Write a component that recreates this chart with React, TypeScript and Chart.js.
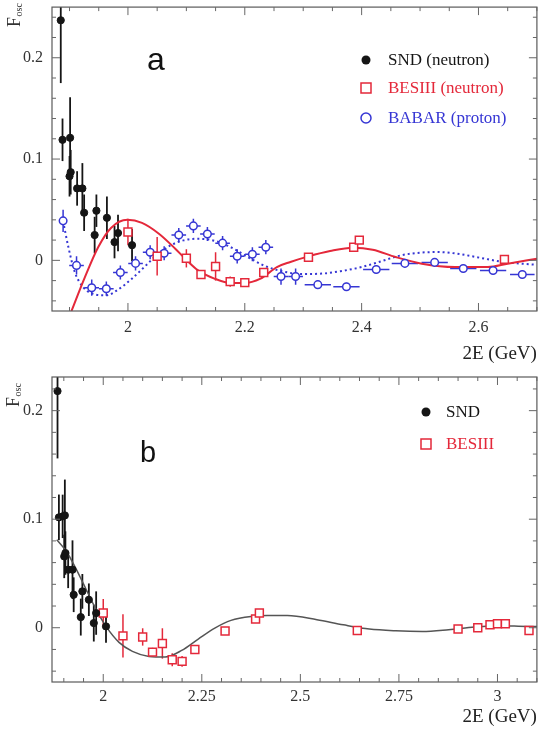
import { useEffect, useRef } from 'react';
import { Chart, registerables } from 'chart.js';

Chart.register(...registerables);

// ---------- panel a ----------
// SND (neutron)
const sndA_E = [1.885, 1.888, 1.901, 1.900, 1.902, 1.913, 1.922, 1.925, 1.943, 1.946, 1.964, 1.977, 1.983, 2.007];
const sndA_F = [0.237, 0.119, 0.121, 0.083, 0.087, 0.071, 0.071, 0.047, 0.025, 0.049, 0.042, 0.018, 0.027, 0.015];
const sndA_err = [0.062, 0.021, 0.04, 0.02, 0.022, 0.017, 0.025, 0.018, 0.018, 0.016, 0.021, 0.016, 0.018, 0.016];

// BESIII (neutron)
const besA_E = [2.0, 2.05, 2.1, 2.125, 2.15, 2.175, 2.2, 2.2324, 2.309, 2.3864, 2.396, 2.6444];
const besA_F = [0.028, 0.004, 0.002, -0.014, -0.006, -0.021, -0.022, -0.012, 0.003, 0.013, 0.020, 0.001];
const besA_err = [0.013, 0.019, 0.009, 0.004, 0.014, 0.005, 0.004, 0.004, 0.003, 0.003, 0.003, 0.003];

// BABAR (proton)
const babar_E = [1.889, 1.912, 1.938, 1.963, 1.987, 2.013, 2.038, 2.062, 2.087, 2.112, 2.136, 2.162, 2.187,
  2.213, 2.236, 2.262, 2.287, 2.325, 2.374, 2.425, 2.474, 2.525, 2.574, 2.625, 2.675];
const babar_F = [0.039, -0.005, -0.027, -0.028, -0.012, -0.003, 0.008, 0.007, 0.025, 0.034, 0.026, 0.017, 0.004,
  0.006, 0.013, -0.016, -0.016, -0.024, -0.026, -0.009, -0.003, -0.002, -0.008, -0.010, -0.014];
const babar_errF = [0.011, 0.009, 0.008, 0.007, 0.007, 0.007, 0.007, 0.007, 0.007, 0.007, 0.007, 0.007, 0.007,
  0.007, 0.007, 0.008, 0.008, 0.004, 0.004, 0.004, 0.004, 0.004, 0.004, 0.004, 0.004];
const babar_errE = [0.005, 0.0125, 0.0125, 0.0125, 0.0125, 0.0125, 0.0125, 0.0125, 0.0125, 0.0125, 0.0125, 0.0125, 0.0125,
  0.0125, 0.0125, 0.0125, 0.0125, 0.0225, 0.0225, 0.0225, 0.0225, 0.0225, 0.0225, 0.0225, 0.021];

// neutron fit (solid) and proton fit (dotted)
const fitN_E = [1.902, 1.926, 1.949, 1.971, 1.999, 2.024, 2.053, 2.081, 2.098, 2.120, 2.148, 2.176, 2.199, 2.227,
  2.255, 2.278, 2.309, 2.346, 2.385, 2.419, 2.458, 2.503, 2.560, 2.616, 2.650, 2.700];
const fitN_F = [-0.052, -0.017, 0.013, 0.032, 0.040, 0.037, 0.0263, 0.0115, 0.0016, -0.0099, -0.018, -0.0223, -0.0223,
  -0.018, -0.0066, -0.0016, 0.0039, 0.0092, 0.0125, 0.0105, 0.0033, -0.0033, -0.0066, -0.0066, -0.0033, 0.0016];
const fitP_E = [1.889, 1.898, 1.909, 1.924, 1.943, 1.963, 1.983, 2.005, 2.028, 2.050, 2.073, 2.095, 2.118, 2.140,
  2.163, 2.186, 2.208, 2.236, 2.264, 2.298, 2.332, 2.366, 2.400, 2.433, 2.467, 2.501, 2.529, 2.563, 2.602, 2.642, 2.697];
const fitP_F = [0.0387, 0.0131, -0.0115, -0.0269, -0.0335, -0.0345, -0.0289, -0.019, -0.0066, 0.0056, 0.0148, 0.0197,
  0.0213, 0.0204, 0.0164, 0.0099, 0.0023, -0.0059, -0.0108, -0.0135, -0.0131, -0.0105, -0.0066, -0.001, 0.0049,
  0.0076, 0.0082, 0.0066, 0.0026, -0.0016, -0.0043];

const ticksA_E = [2, 2.2, 2.4, 2.6];
const ticksA_F = [0, 0.1, 0.2];

// ---------- panel b ----------
const sndB_E = [1.884, 1.8875, 1.897, 1.9026, 1.901, 1.904, 1.911, 1.922, 1.925, 1.943, 1.947, 1.9635, 1.976, 1.982, 2.007];
const sndB_F = [0.218, 0.1017, 0.1026, 0.1035, 0.0657, 0.0688, 0.0535, 0.0535, 0.0304, 0.0098, 0.0335, 0.0258, 0.0043, 0.0135, 0.0012];
const sndB_err = [0.062, 0.021, 0.02, 0.033, 0.02, 0.02, 0.017, 0.027, 0.016, 0.017, 0.016, 0.015, 0.017, 0.02, 0.015];

const besB_E = [2.0, 2.05, 2.1, 2.125, 2.15, 2.175, 2.2, 2.2324, 2.309, 2.3864, 2.396, 2.6444, 2.9, 2.95, 2.981, 3.0, 3.02, 3.08];
const besB_F = [0.0135, -0.0075, -0.0085, -0.0225, -0.0145, -0.0295, -0.031, -0.020, -0.003, 0.008, 0.0135, -0.0025,
  -0.0012, 0.0, 0.0028, 0.0037, 0.0037, -0.0025];
const besB_err = [0.013, 0.02, 0.008, 0.004, 0.014, 0.006, 0.005, 0.004, 0.003, 0.003, 0.003, 0.002, 0.002, 0.002,
  0.002, 0.004, 0.002, 0.002];

const fitB_E = [1.882, 1.907, 1.932, 1.957, 1.982, 2.007, 2.040, 2.074, 2.116, 2.157, 2.199, 2.241, 2.283, 2.324,
  2.375, 2.420, 2.467, 2.542, 2.609, 2.675, 2.742, 2.809, 2.876, 2.942, 3.009, 3.076, 3.100];
const fitB_F = [0.081, 0.070, 0.0535, 0.035, 0.0166, 0.0012, -0.0135, -0.0218, -0.0264, -0.027, -0.0209, -0.0104,
  -0.0003, 0.0068, 0.0104, 0.0112, 0.0113, 0.0074, 0.0027, -0.0012, -0.0028, -0.0034, -0.0018, 0.0006, 0.0018,
  0.0012, 0.0012];

const ticksB_E = [2, 2.25, 2.5, 2.75, 3];
const ticksB_F = [0, 0.1, 0.2];

// ---------- styles ----------
const SERIF = '"Liberation Serif", "DejaVu Serif", serif';
const SANS = '"Liberation Sans", Arial, sans-serif';
const RED = '#e4283a';
const BLUE = '#3636d4';
const INK = '#151515';

type Marker = 'dot' | 'square' | 'ring';
type LegendEntry = { text: string; color: string; marker: Marker };

interface PanelSpec {
  height: number;
  padTop: number;
  padRight: number;
  xAxisHeight: number;
  xTickPad: number;
  titlePad: number;
  xMin: number; xMax: number; yMin: number; yMax: number;
  xTicks: number[]; yTicks: number[];
  xMinor: number; yMinor: number;
  letter: string; letterSize: number; letterX: number; letterY: number;
  yLabelX: number; yLabelY: number;
  legendMarkerX: number; legendTextX: number; legendY: number[];
  legend: LegendEntry[];
  datasets: any[];
}

const pts = (xs: number[], ys: number[]) => xs.map((x, i) => ({ x, y: ys[i] }));

const sndStyle = {
  pointStyle: 'circle', pointRadius: 3.6, pointBackgroundColor: INK, pointBorderColor: INK,
  pointBorderWidth: 1, borderColor: INK, showLine: false, errWidth: 1.8,
};
const besStyle = {
  pointStyle: 'rect', pointRadius: 5.6, pointBackgroundColor: '#ffffff', pointBorderColor: RED,
  pointBorderWidth: 1.5, borderColor: RED, showLine: false, errWidth: 1.5,
};
const babarStyle = {
  pointStyle: 'circle', pointRadius: 3.8, pointBackgroundColor: '#ffffff', pointBorderColor: BLUE,
  pointBorderWidth: 1.5, borderColor: BLUE, showLine: false, errWidth: 1.5,
};
const curve = (color: string, width: number, dash: number[] = []) => ({
  showLine: true, pointRadius: 0, borderColor: color, borderWidth: width, borderDash: dash,
  cubicInterpolationMode: 'monotone', fill: false,
});

const panelA: PanelSpec = {
  height: 365, padTop: 7, padRight: 2, xAxisHeight: 54, xTickPad: 7, titlePad: 0,
  xMin: 1.87, xMax: 2.7, yMin: -0.05, yMax: 0.25,
  xTicks: ticksA_E, yTicks: ticksA_F, xMinor: 0.05, yMinor: 0.02,
  letter: 'a', letterSize: 32, letterX: 147, letterY: 70,
  yLabelX: 20, yLabelY: 27,
  legendMarkerX: 366, legendTextX: 388, legendY: [60, 88, 118],
  legend: [
    { text: 'SND (neutron)', color: INK, marker: 'dot' },
    { text: 'BESIII (neutron)', color: RED, marker: 'square' },
    { text: 'BABAR (proton)', color: BLUE, marker: 'ring' },
  ],
  datasets: [
    { ...sndStyle, data: pts(sndA_E, sndA_F), errY: sndA_err },
    { ...besStyle, data: pts(besA_E, besA_F), errY: besA_err },
    { ...babarStyle, data: pts(babar_E, babar_F), errY: babar_errF, errX: babar_errE },
    { ...curve(RED, 2), data: pts(fitN_E, fitN_F) },
    { ...curve(BLUE, 2, [2, 3]), data: pts(fitP_E, fitP_F) },
  ],
};

const panelB: PanelSpec = {
  height: 366, padTop: 12, padRight: 3, xAxisHeight: 49, xTickPad: 5, titlePad: 3,
  xMin: 1.87, xMax: 3.1, yMin: -0.05, yMax: 0.231,
  xTicks: ticksB_E, yTicks: ticksB_F, xMinor: 0.05, yMinor: 0.02,
  letter: 'b', letterSize: 29, letterX: 140, letterY: 97,
  yLabelX: 19, yLabelY: 42,
  legendMarkerX: 426, legendTextX: 446, legendY: [47, 79],
  legend: [
    { text: 'SND', color: INK, marker: 'dot' },
    { text: 'BESIII', color: RED, marker: 'square' },
  ],
  datasets: [
    { ...sndStyle, data: pts(sndB_E, sndB_F), errY: sndB_err },
    { ...besStyle, data: pts(besB_E, besB_F), errY: besB_err },
    { ...curve('#555555', 1.5), data: pts(fitB_E, fitB_F) },
  ],
};

// Vertical / horizontal error bars, drawn beneath the markers
const errorBars = {
  id: 'errorBars',
  beforeDatasetsDraw(chart: any) {
    const { ctx, chartArea: ca } = chart;
    const xs = chart.scales.x;
    const ys = chart.scales.y;
    ctx.save();
    ctx.beginPath();
    ctx.rect(ca.left, ca.top, ca.right - ca.left, ca.bottom - ca.top);
    ctx.clip();
    chart.data.datasets.forEach((ds: any) => {
      if (!ds.errY && !ds.errX) return;
      ctx.strokeStyle = ds.borderColor;
      ctx.lineWidth = ds.errWidth || 1.5;
      ds.data.forEach((p: any, i: number) => {
        const px = xs.getPixelForValue(p.x);
        const py = ys.getPixelForValue(p.y);
        ctx.beginPath();
        if (ds.errY) {
          ctx.moveTo(px, ys.getPixelForValue(p.y - ds.errY[i]));
          ctx.lineTo(px, ys.getPixelForValue(p.y + ds.errY[i]));
        }
        if (ds.errX) {
          ctx.moveTo(xs.getPixelForValue(p.x - ds.errX[i]), py);
          ctx.lineTo(xs.getPixelForValue(p.x + ds.errX[i]), py);
        }
        ctx.stroke();
      });
    });
    ctx.restore();
  },
};

function drawMarker(ctx: CanvasRenderingContext2D, kind: Marker, x: number, y: number, color: string) {
  ctx.save();
  ctx.strokeStyle = color;
  ctx.fillStyle = color;
  ctx.lineWidth = 1.5;
  ctx.beginPath();
  if (kind === 'dot') {
    ctx.arc(x, y, 4.5, 0, Math.PI * 2);
    ctx.fill();
  } else if (kind === 'square') {
    ctx.rect(x - 5, y - 5, 10, 10);
    ctx.stroke();
  } else {
    ctx.arc(x, y, 5, 0, Math.PI * 2);
    ctx.stroke();
  }
  ctx.restore();
}

function steps(min: number, max: number, step: number) {
  const out: number[] = [];
  for (let k = Math.ceil(min / step - 1e-6); k * step <= max + 1e-9; k++) out.push(k * step);
  return out;
}

// Frame with inward ticks, axis label, panel letter and legend
function decorations(spec: PanelSpec) {
  return {
    id: 'decorations',
    afterDraw(chart: any) {
      const { ctx, chartArea: ca } = chart;
      const xs = chart.scales.x;
      const ys = chart.scales.y;
      const major = (v: number, list: number[]) => list.some((m) => Math.abs(m - v) < 1e-6);
      ctx.save();

      ctx.strokeStyle = '#5a5a5a';
      ctx.lineWidth = 1.2;
      ctx.strokeRect(ca.left, ca.top, ca.right - ca.left, ca.bottom - ca.top);

      ctx.lineWidth = 1;
      ctx.strokeStyle = '#666666';
      ctx.beginPath();
      for (const v of steps(spec.xMin, spec.xMax, spec.xMinor)) {
        const len = major(v, spec.xTicks) ? 8 : 4;
        const px = xs.getPixelForValue(v);
        ctx.moveTo(px, ca.bottom);
        ctx.lineTo(px, ca.bottom - len);
        ctx.moveTo(px, ca.top);
        ctx.lineTo(px, ca.top + len);
      }
      for (const v of steps(spec.yMin, spec.yMax, spec.yMinor)) {
        const len = major(v, spec.yTicks) ? 8 : 4;
        const py = ys.getPixelForValue(v);
        ctx.moveTo(ca.left, py);
        ctx.lineTo(ca.left + len, py);
        ctx.moveTo(ca.right, py);
        ctx.lineTo(ca.right - len, py);
      }
      ctx.stroke();

      // F_osc, rotated
      ctx.save();
      ctx.translate(spec.yLabelX, spec.yLabelY);
      ctx.rotate(-Math.PI / 2);
      ctx.fillStyle = '#333333';
      ctx.textBaseline = 'alphabetic';
      ctx.textAlign = 'left';
      ctx.font = `18px ${SERIF}`;
      ctx.fillText('F', 0, 0);
      const fw = ctx.measureText('F').width;
      ctx.font = `10px ${SERIF}`;
      ctx.fillText('osc', fw + 0.5, 2);
      ctx.restore();

      // panel letter
      ctx.fillStyle = '#111111';
      ctx.font = `${spec.letterSize}px ${SANS}`;
      ctx.textAlign = 'left';
      ctx.textBaseline = 'alphabetic';
      ctx.fillText(spec.letter, spec.letterX, spec.letterY);

      // legend
      ctx.font = `17px ${SERIF}`;
      ctx.textBaseline = 'middle';
      spec.legend.forEach((e, i) => {
        const y = spec.legendY[i];
        drawMarker(ctx, e.marker, spec.legendMarkerX, y, e.color);
        ctx.fillStyle = e.color;
        ctx.fillText(e.text, spec.legendTextX, y + 1);
      });

      ctx.restore();
    },
  };
}

function Panel({ spec, top }: { spec: PanelSpec; top: number }) {
  const ref = useRef<HTMLCanvasElement | null>(null);

  useEffect(() => {
    if (!ref.current) return;
    const fmt = (v: any) => String(v);
    const chart = new Chart(ref.current, {
      type: 'scatter',
      data: { datasets: spec.datasets as any },
      options: {
        animation: false,
        responsive: false,
        maintainAspectRatio: false,
        layout: { padding: { left: 0, right: spec.padRight, top: spec.padTop, bottom: 0 } },
        plugins: { legend: { display: false }, tooltip: { enabled: false } },
        scales: {
          x: {
            type: 'linear',
            min: spec.xMin,
            max: spec.xMax,
            grid: { display: false, drawTicks: false },
            border: { display: false },
            ticks: {
              font: { family: SERIF, size: 16 },
              color: '#333333',
              padding: spec.xTickPad,
              maxRotation: 0,
              autoSkip: false,
              callback: fmt,
            },
            afterBuildTicks: (s: any) => { s.ticks = spec.xTicks.map((value) => ({ value })); },
            afterFit: (s: any) => {
              s.height = spec.xAxisHeight;
              s.paddingLeft = 0;
              s.paddingRight = 0;
              s.paddingTop = 0;
              s.paddingBottom = 0;
            },
            title: {
              display: true,
              text: '2E (GeV)',
              align: 'end',
              color: '#222222',
              font: { family: SERIF, size: 19 },
              padding: { top: 0, bottom: spec.titlePad },
            },
          },
          y: {
            type: 'linear',
            min: spec.yMin,
            max: spec.yMax,
            grid: { display: false, drawTicks: false },
            border: { display: false },
            ticks: {
              font: { family: SERIF, size: 16 },
              color: '#333333',
              padding: 9,
              autoSkip: false,
              callback: fmt,
            },
            afterBuildTicks: (s: any) => { s.ticks = spec.yTicks.map((value) => ({ value })); },
            afterFit: (s: any) => {
              s.width = 52;
              s.paddingTop = 0;
              s.paddingBottom = 0;
              s.paddingLeft = 0;
              s.paddingRight = 0;
            },
          },
        },
      } as any,
      plugins: [errorBars, decorations(spec)],
    });
    return () => chart.destroy();
  }, [spec]);

  return (
    <canvas
      ref={ref}
      width={544}
      height={spec.height}
      style={{ position: 'absolute', left: 0, top, width: 544, height: spec.height, display: 'block' }}
    />
  );
}

export default function App() {
  return (
    <div style={{ position: 'absolute', left: 0, top: 0, width: 544, height: 731, background: '#ffffff' }}>
      <Panel spec={panelA} top={0} />
      <Panel spec={panelB} top={365} />
    </div>
  );
}
